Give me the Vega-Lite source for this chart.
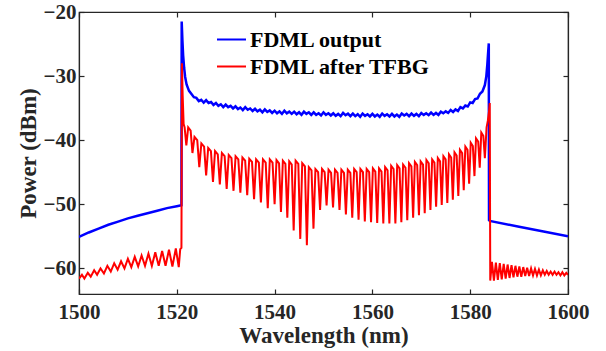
{
  "$schema": "https://vega.github.io/schema/vega-lite/v6.json",
  "width": 489,
  "height": 282,
  "autosize": {"type": "none"},
  "padding": {"left": 79, "top": 12, "right": 38, "bottom": 57},
  "background": "white",
  "datasets": {
    "blue": [
      {"x":1500,"y":-55.1},{"x":1502,"y":-54.4},{"x":1504,"y":-53.8},{"x":1506,"y":-53.2},{"x":1508,"y":-52.7},{"x":1510,"y":-52.2},{"x":1512,"y":-51.8},{"x":1514,"y":-51.4},{"x":1516,"y":-51.0},{"x":1518,"y":-50.6},{"x":1520,"y":-50.3},{"x":1520.95,"y":-50.15},
      {"x":1521.0,"y":-21.5},{"x":1521.15,"y":-24.5},{"x":1521.3,"y":-26.8},{"x":1521.5,"y":-28.7},{"x":1521.7,"y":-30.1},{"x":1522.0,"y":-31.3},{"x":1522.5,"y":-32.3},{"x":1523.0,"y":-32.8},{"x":1523.5,"y":-33.3},
      {"x":1524.0,"y":-33.4},{"x":1524.5,"y":-33.9},{"x":1525.0,"y":-33.7},{"x":1525.5,"y":-34.15},{"x":1526.0,"y":-33.75},{"x":1526.5,"y":-34.2},{"x":1527.0,"y":-34.05},{"x":1527.5,"y":-34.5},{"x":1528.0,"y":-34.2},{"x":1528.5,"y":-34.65},{"x":1529.0,"y":-34.4},{"x":1529.5,"y":-34.85},{"x":1530.0,"y":-34.45},{"x":1530.5,"y":-34.85},{"x":1531.0,"y":-34.65},{"x":1531.5,"y":-35.05},{"x":1532.0,"y":-34.7},{"x":1532.5,"y":-35.15},{"x":1533.0,"y":-34.9},{"x":1533.5,"y":-35.3},{"x":1534.0,"y":-34.85},{"x":1534.5,"y":-35.25},{"x":1535.0,"y":-35.05},{"x":1535.5,"y":-35.45},{"x":1536.0,"y":-35.1},{"x":1536.5,"y":-35.5},{"x":1537.0,"y":-35.25},{"x":1537.5,"y":-35.65},{"x":1538.0,"y":-35.2},{"x":1538.5,"y":-35.6},{"x":1539.0,"y":-35.35},{"x":1539.5,"y":-35.75},{"x":1540.0,"y":-35.4},{"x":1540.5,"y":-35.8},{"x":1541.0,"y":-35.5},{"x":1541.5,"y":-35.9},{"x":1542.0,"y":-35.4},{"x":1542.5,"y":-35.8},{"x":1543.0,"y":-35.55},{"x":1543.5,"y":-35.9},{"x":1544.0,"y":-35.55},{"x":1544.5,"y":-35.95},{"x":1545.0,"y":-35.65},{"x":1545.5,"y":-36.05},{"x":1546.0,"y":-35.55},{"x":1546.5,"y":-35.9},{"x":1547.0,"y":-35.65},{"x":1547.5,"y":-36.05},{"x":1548.0,"y":-35.65},{"x":1548.5,"y":-36.05},{"x":1549.0,"y":-35.8},{"x":1549.5,"y":-36.15},{"x":1550.0,"y":-35.65},{"x":1550.5,"y":-36.05},{"x":1551.0,"y":-35.8},{"x":1551.5,"y":-36.15},{"x":1552.0,"y":-35.8},{"x":1552.5,"y":-36.2},{"x":1553.0,"y":-35.9},{"x":1553.5,"y":-36.25},{"x":1554.0,"y":-35.75},{"x":1554.5,"y":-36.1},{"x":1555.0,"y":-35.85},{"x":1555.5,"y":-36.25},{"x":1556.0,"y":-35.85},{"x":1556.5,"y":-36.25},{"x":1557.0,"y":-35.95},{"x":1557.5,"y":-36.35},{"x":1558.0,"y":-35.85},{"x":1558.5,"y":-36.2},{"x":1559.0,"y":-35.95},{"x":1559.5,"y":-36.3},{"x":1560.0,"y":-35.9},{"x":1560.5,"y":-36.3},{"x":1561.0,"y":-36.0},{"x":1561.5,"y":-36.35},{"x":1562.0,"y":-35.85},{"x":1562.5,"y":-36.2},{"x":1563.0,"y":-35.95},{"x":1563.5,"y":-36.3},{"x":1564.0,"y":-35.9},{"x":1564.5,"y":-36.3},{"x":1565.0,"y":-36.0},{"x":1565.5,"y":-36.35},{"x":1566.0,"y":-35.85},{"x":1566.5,"y":-36.15},{"x":1567.0,"y":-35.9},{"x":1567.5,"y":-36.25},{"x":1568.0,"y":-35.85},{"x":1568.5,"y":-36.2},{"x":1569.0,"y":-35.9},{"x":1569.5,"y":-36.25},{"x":1570.0,"y":-35.75},{"x":1570.5,"y":-36.05},{"x":1571.0,"y":-35.8},{"x":1571.5,"y":-36.1},{"x":1572.0,"y":-35.7},{"x":1572.5,"y":-36.05},{"x":1573.0,"y":-35.75},{"x":1573.5,"y":-36.05},{"x":1574.0,"y":-35.55},{"x":1574.5,"y":-35.8},{"x":1575.0,"y":-35.5},{"x":1575.5,"y":-35.75},{"x":1576.0,"y":-35.3},{"x":1576.5,"y":-35.6},{"x":1577.0,"y":-35.2},{"x":1577.5,"y":-35.45},{"x":1578.0,"y":-34.85},{"x":1578.5,"y":-35.05},{"x":1579.0,"y":-34.6},{"x":1579.5,"y":-34.75},{"x":1580.0,"y":-34.1},{"x":1580.5,"y":-34.2},{"x":1581.0,"y":-33.6},{"x":1581.5,"y":-33.5},{"x":1582.0,"y":-32.75},{"x":1582.5,"y":-32.4},{"x":1583.0,"y":-31.4},{"x":1583.3,"y":-30.0},{"x":1583.5,"y":-28.2},{"x":1583.65,"y":-26.5},{"x":1583.8,"y":-24.9},
      {"x":1583.85,"y":-52.5},{"x":1584.0,"y":-52.6},{"x":1590,"y":-53.5},{"x":1595,"y":-54.25},{"x":1600,"y":-55.0}
    ],
    "red": [
      {"x":1500.0,"y":-61.6},{"x":1500.6,"y":-61.0},{"x":1501.1,"y":-61.6},{"x":1501.8,"y":-60.7},{"x":1502.4,"y":-61.3},{"x":1503.1,"y":-60.3},{"x":1503.7,"y":-61.0},{"x":1504.4,"y":-60.0},{"x":1505.1,"y":-60.8},{"x":1505.8,"y":-59.6},{"x":1506.5,"y":-60.5},{"x":1507.2,"y":-59.2},{"x":1507.9,"y":-60.2},{"x":1508.6,"y":-58.9},{"x":1509.3,"y":-60.0},{"x":1510.0,"y":-58.5},{"x":1510.7,"y":-59.8},{"x":1511.4,"y":-58.2},{"x":1512.1,"y":-59.7},{"x":1512.8,"y":-58.0},{"x":1513.5,"y":-59.6},{"x":1514.2,"y":-57.7},{"x":1514.9,"y":-59.6},{"x":1515.6,"y":-57.5},{"x":1516.3,"y":-59.6},{"x":1517.0,"y":-57.3},{"x":1517.7,"y":-59.6},{"x":1518.4,"y":-57.1},{"x":1519.1,"y":-59.7},{"x":1519.8,"y":-56.9},{"x":1520.4,"y":-59.8},{"x":1520.7,"y":-57.0},{"x":1520.95,"y":-56.8},
      {"x":1521.05,"y":-28.0},{"x":1521.2,"y":-33.0},{"x":1521.4,"y":-37.5},{"x":1521.6,"y":-38.0},
      {"x":1521.95,"y":-40.8},{"x":1522.33,"y":-38.0},{"x":1522.83,"y":-38.5},
      {"x":1523.2,"y":-42.0},{"x":1523.62,"y":-39.5},{"x":1524.18,"y":-40.0},
      {"x":1524.6,"y":-44.2},{"x":1525.02,"y":-40.5},{"x":1525.58,"y":-41.0},
      {"x":1526.0,"y":-45.5},{"x":1526.42,"y":-41.2},{"x":1526.98,"y":-41.7},
      {"x":1527.4,"y":-46.5},{"x":1527.82,"y":-41.7},{"x":1528.38,"y":-42.2},
      {"x":1528.8,"y":-46.9},{"x":1529.22,"y":-42.0},{"x":1529.78,"y":-42.5},
      {"x":1530.2,"y":-47.6},{"x":1530.62,"y":-42.3},{"x":1531.18,"y":-42.8},
      {"x":1531.6,"y":-47.9},{"x":1532.02,"y":-42.5},{"x":1532.58,"y":-43.0},
      {"x":1533.0,"y":-48.2},{"x":1533.42,"y":-42.7},{"x":1533.98,"y":-43.2},
      {"x":1534.4,"y":-48.6},{"x":1534.82,"y":-42.9},{"x":1535.38,"y":-43.4},
      {"x":1535.8,"y":-49.2},{"x":1536.22,"y":-43.0},{"x":1536.78,"y":-43.5},
      {"x":1537.2,"y":-49.7},{"x":1537.62,"y":-43.0},{"x":1538.18,"y":-43.5},
      {"x":1538.6,"y":-50.6},{"x":1539.02,"y":-43.0},{"x":1539.58,"y":-43.5},
      {"x":1540.0,"y":-50.0},{"x":1540.39,"y":-43.1},{"x":1540.91,"y":-43.6},
      {"x":1541.3,"y":-51.2},{"x":1541.69,"y":-43.2},{"x":1542.21,"y":-43.7},
      {"x":1542.6,"y":-52.1},{"x":1542.99,"y":-43.3},{"x":1543.51,"y":-43.8},
      {"x":1543.9,"y":-54.1},{"x":1544.3,"y":-43.2},{"x":1544.85,"y":-43.7},
      {"x":1545.25,"y":-55.4},{"x":1545.65,"y":-43.6},{"x":1546.2,"y":-44.1},
      {"x":1546.6,"y":-56.4},{"x":1547.0,"y":-44.2},{"x":1547.55,"y":-44.7},
      {"x":1547.95,"y":-53.8},{"x":1548.35,"y":-44.5},{"x":1548.9,"y":-45.0},
      {"x":1549.3,"y":-50.9},{"x":1549.7,"y":-44.5},{"x":1550.23,"y":-45.0},
      {"x":1550.63,"y":-50.2},{"x":1551.03,"y":-44.6},{"x":1551.55,"y":-45.1},
      {"x":1551.95,"y":-50.5},{"x":1552.35,"y":-44.6},{"x":1552.87,"y":-45.1},
      {"x":1553.27,"y":-50.9},{"x":1553.66,"y":-44.6},{"x":1554.19,"y":-45.1},
      {"x":1554.58,"y":-51.6},{"x":1554.97,"y":-44.6},{"x":1555.49,"y":-45.1},
      {"x":1555.88,"y":-52.1},{"x":1556.27,"y":-44.5},{"x":1556.78,"y":-45.0},
      {"x":1557.17,"y":-52.4},{"x":1557.55,"y":-44.5},{"x":1558.07,"y":-45.0},
      {"x":1558.45,"y":-52.7},{"x":1558.83,"y":-44.5},{"x":1559.34,"y":-45.0},
      {"x":1559.72,"y":-52.8},{"x":1560.1,"y":-44.4},{"x":1560.6,"y":-44.9},
      {"x":1560.98,"y":-52.9},{"x":1561.36,"y":-44.4},{"x":1561.86,"y":-44.9},
      {"x":1562.23,"y":-53.0},{"x":1562.6,"y":-44.2},{"x":1563.1,"y":-44.7},
      {"x":1563.47,"y":-53.0},{"x":1563.84,"y":-44.0},{"x":1564.33,"y":-44.5},
      {"x":1564.7,"y":-53.0},{"x":1565.07,"y":-43.9},{"x":1565.55,"y":-44.4},
      {"x":1565.92,"y":-52.8},{"x":1566.28,"y":-43.8},{"x":1566.77,"y":-44.3},
      {"x":1567.13,"y":-52.5},{"x":1567.49,"y":-43.6},{"x":1567.97,"y":-44.1},
      {"x":1568.33,"y":-52.1},{"x":1568.69,"y":-43.4},{"x":1569.16,"y":-43.9},
      {"x":1569.52,"y":-51.7},{"x":1569.87,"y":-43.3},{"x":1570.35,"y":-43.8},
      {"x":1570.7,"y":-51.4},{"x":1571.05,"y":-43.1},{"x":1571.52,"y":-43.6},
      {"x":1571.87,"y":-50.9},{"x":1572.22,"y":-43.0},{"x":1572.68,"y":-43.5},
      {"x":1573.03,"y":-50.4},{"x":1573.38,"y":-42.8},{"x":1573.84,"y":-43.3},
      {"x":1574.18,"y":-50.1},{"x":1574.52,"y":-42.5},{"x":1574.98,"y":-43.0},
      {"x":1575.32,"y":-49.8},{"x":1575.66,"y":-42.2},{"x":1576.11,"y":-42.7},
      {"x":1576.45,"y":-49.3},{"x":1576.79,"y":-41.9},{"x":1577.23,"y":-42.4},
      {"x":1577.57,"y":-48.7},{"x":1577.9,"y":-41.5},{"x":1578.35,"y":-42.0},
      {"x":1578.68,"y":-47.8},{"x":1579.01,"y":-41.0},{"x":1579.45,"y":-41.5},
      {"x":1579.78,"y":-46.8},{"x":1580.11,"y":-40.4},{"x":1580.54,"y":-40.9},
      {"x":1580.87,"y":-45.6},{"x":1581.19,"y":-39.7},{"x":1581.63,"y":-40.2},
      {"x":1581.95,"y":-44.3},{"x":1582.27,"y":-38.8},{"x":1582.68,"y":-39.3},
      {"x":1583.0,"y":-42.8},{"x":1583.35,"y":-38.0},{"x":1583.6,"y":-37.0},{"x":1583.85,"y":-35.5},{"x":1584.0,"y":-34.2},
      {"x":1584.1,"y":-61.9},{"x":1584.45,"y":-59.0},{"x":1584.85,"y":-61.9},{"x":1585.25,"y":-59.1},{"x":1585.65,"y":-61.8},{"x":1586.05,"y":-59.2},{"x":1586.45,"y":-61.7},{"x":1586.85,"y":-59.3},{"x":1587.25,"y":-61.6},{"x":1587.65,"y":-59.4},{"x":1588.05,"y":-61.5},{"x":1588.45,"y":-59.5},{"x":1588.85,"y":-61.4},{"x":1589.25,"y":-59.6},{"x":1589.65,"y":-61.3},{"x":1590.05,"y":-59.7},{"x":1590.45,"y":-61.3},{"x":1590.85,"y":-59.8},{"x":1591.25,"y":-61.2},{"x":1591.65,"y":-59.9},{"x":1592.05,"y":-61.2},{"x":1592.45,"y":-60.0},{"x":1592.85,"y":-61.1},{"x":1593.25,"y":-60.1},{"x":1593.65,"y":-61.1},{"x":1594.05,"y":-60.2},{"x":1594.45,"y":-61.1},{"x":1594.85,"y":-60.3},{"x":1595.25,"y":-61.0},{"x":1595.65,"y":-60.4},{"x":1596.05,"y":-61.0},{"x":1596.45,"y":-60.5},{"x":1596.85,"y":-61.0},{"x":1597.25,"y":-60.5},{"x":1597.65,"y":-61.0},{"x":1598.05,"y":-60.6},{"x":1598.45,"y":-61.1},{"x":1598.85,"y":-60.6},{"x":1599.25,"y":-61.1},{"x":1599.65,"y":-60.7},{"x":1600.0,"y":-61.0}
    ]
  },
  "layer": [
    {
      "data": {"name": "blue"},
      "mark": {"type": "line", "strokeWidth": 2.5, "clip": true},
      "encoding": {
        "x": {"field": "x", "type": "quantitative", "scale": {"domain": [1500, 1600], "nice": false, "zero": false},
              "axis": {"orient": "bottom", "values": [1500, 1520, 1540, 1560, 1580, 1600], "format": "d", "title": "Wavelength (nm)", "labelPadding": 12, "titlePadding": 2}},
        "y": {"field": "y", "type": "quantitative", "scale": {"domain": [-64, -20], "nice": false, "zero": false},
              "axis": {"orient": "left", "values": [-60, -50, -40, -30, -20], "format": "d", "title": "Power (dBm)", "labelPadding": 8, "titlePadding": 3}},
        "color": {"datum": "FDML output", "type": "nominal",
                  "scale": {"domain": ["FDML output", "FDML after TFBG"], "range": ["#0000ff", "#ff0000"]},
                  "legend": {"orient": "none", "legendX": 137, "legendY": 12, "title": null}}
      }
    },
    {
      "data": {"name": "red"},
      "mark": {"type": "line", "strokeWidth": 2, "clip": true},
      "encoding": {
        "x": {"field": "x", "type": "quantitative",
              "axis": {"orient": "top", "values": [1500, 1520, 1540, 1560, 1580, 1600], "labels": false, "title": null}},
        "y": {"field": "y", "type": "quantitative",
              "axis": {"orient": "right", "values": [-60, -50, -40, -30, -20], "labels": false, "title": null}},
        "color": {"datum": "FDML after TFBG", "type": "nominal"}
      }
    }
  ],
  "resolve": {"scale": {"x": "shared", "y": "shared"}, "axis": {"x": "independent", "y": "independent"}},
  "config": {
    "view": {"stroke": "#262626", "strokeWidth": 1.2},
    "font": "Liberation Serif",
    "axis": {
      "grid": false,
      "domain": true,
      "domainColor": "#262626",
      "domainWidth": 1.2,
      "tickSize": -5,
      "tickWidth": 1.2,
      "tickColor": "#262626",
      "labelColor": "#262626",
      "titleColor": "#262626",
      "labelFont": "Liberation Serif",
      "labelFontWeight": "bold",
      "labelFontSize": 21,
      "titleFont": "Liberation Serif",
      "titleFontWeight": "bold",
      "titleFontSize": 23,
      "labelFlush": false,
      "labelOverlap": false
    },
    "legend": {
      "symbolType": "stroke",
      "symbolSize": 841,
      "symbolStrokeWidth": 2,
      "labelFont": "Liberation Serif",
      "labelFontWeight": "bold",
      "labelFontSize": 22,
      "labelColor": "#000000",
      "labelOffset": 3,
      "labelLimit": 400,
      "rowPadding": 0,
      "padding": 0
    }
  }
}
